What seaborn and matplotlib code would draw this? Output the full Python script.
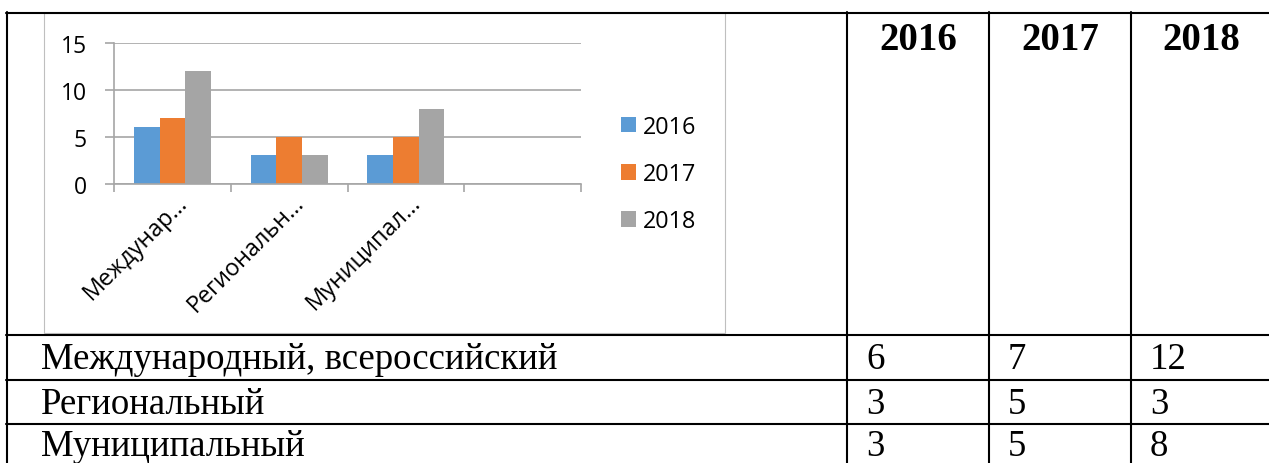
import numpy as np
import pandas as pd
import matplotlib
matplotlib.use("Agg")
import matplotlib.pyplot as plt
import seaborn as sns
from matplotlib.lines import Line2D
from matplotlib.patches import Rectangle
from matplotlib.transforms import ScaledTranslation

# -- Данные
levels = ["Международный, всероссийский", "Региональный", "Муниципальный"]
short_labels = ["Междунар…", "Региональн…", "Муниципал…", ""]
years = ["2016", "2017", "2018"]
values_2016 = [6, 3, 3]
values_2017 = [7, 5, 5]
values_2018 = [12, 3, 8]
colors = ["#5B9BD5", "#ED7D31", "#A5A5A5"]

W, H = 1269, 464

# длинная таблица для seaborn
rows = []
for year, vals in zip(years, [values_2016, values_2017, values_2018]):
    for lab, v in zip(short_labels[:3], vals):
        rows.append({"Уровень": lab, "Год": year, "Количество": v})
df = pd.DataFrame(rows)

sns.set_style("white")
plt.rcParams["font.family"] = ["Open Sans", "DejaVu Sans"]
plt.rcParams["text.color"] = "black"
plt.rcParams["xtick.color"] = "black"
plt.rcParams["ytick.color"] = "black"

fig = plt.figure(figsize=(W / 100, H / 100), dpi=100)


def fx(x):
    return x / W


def fy(y):
    return 1 - y / H


# -- Рамка диаграммы
fig.add_artist(Rectangle((fx(44), fy(334)), fx(725) - fx(44), fy(14) - fy(334),
                         transform=fig.transFigure, facecolor="white",
                         edgecolor="#BFBFBF", lw=0.8, zorder=0))

# -- Диаграмма
grid_c = "#A6A6A6"
ax = fig.add_axes([fx(114), fy(184.5), fx(581) - fx(114), fy(44) - fy(184.5)])
sns.barplot(data=df, x="Уровень", y="Количество", hue="Год", order=short_labels,
            hue_order=years, palette=colors, width=0.66, saturation=1,
            linewidth=0, ax=ax)
ax.set_xlim(-0.5, 3.5)
ax.set_ylim(0, 15)
ax.set_yticks([0, 5, 10, 15])
ax.set_xlabel("")
ax.set_ylabel("")
ax.set_axisbelow(True)
ax.yaxis.grid(True, color=grid_c, lw=1.2)
for s in ["top", "right"]:
    ax.spines[s].set_visible(False)
for s in ["left", "bottom"]:
    ax.spines[s].set_color(grid_c)
    ax.spines[s].set_linewidth(1.2)

ax.set_xticks(range(len(short_labels)))
ax.set_xticklabels(short_labels, rotation=45, ha="right", va="top",
                   rotation_mode="anchor", fontsize=16.8)
ax.set_xticks([-0.5, 0.5, 1.5, 2.5, 3.5], minor=True)
ax.tick_params(axis="x", which="major", length=0, pad=5)
ax.tick_params(axis="x", which="minor", length=5.5, width=1.2, color=grid_c,
               direction="out", bottom=True)
ax.tick_params(axis="y", length=6.5, width=1.2, color=grid_c, direction="out",
               pad=13, labelsize=16.5, left=True, labelcolor="black")
ax.tick_params(axis="x", labelcolor="black")
shift = ScaledTranslation(3 / 100, 0, fig.dpi_scale_trans)
for lab in ax.get_xticklabels():
    lab.set_transform(lab.get_transform() + shift)

handles, labels = ax.get_legend_handles_labels()
ax.get_legend().remove()
ax.legend(handles, labels, loc="center left",
          bbox_to_anchor=(fx(621), fy(175)), bbox_transform=fig.transFigure,
          frameon=False, fontsize=16.8, handlelength=0.65, handleheight=0.65,
          handletextpad=0.3, labelspacing=1.0, borderpad=0, borderaxespad=0)

# -- Таблица
def hline(y, x0=6, x1=W):
    fig.add_artist(Line2D([fx(x0), fx(x1)], [fy(y), fy(y)],
                          transform=fig.transFigure, color="black", lw=1.5))


def vline(x, y0=13, y1=H):
    fig.add_artist(Line2D([fx(x), fx(x)], [fy(y0), fy(y1)],
                          transform=fig.transFigure, color="black", lw=1.5))


hline(14)
for y in [336, 380.5, 425]:
    hline(y)
for x in [7, 847, 989, 1131]:
    vline(x)

serif = ["Liberation Serif", "DejaVu Serif"]
col_centers = [918, 1060, 1201]
col_left = [866, 1008, 1150]
for c, year in zip(col_centers, years):
    fig.text(fx(c), fy(49.5), year, ha="center", va="baseline",
             fontsize=28, fontweight="bold", family=serif)

# последняя строка в оригинале обрезана снизу, чуть поднимаем её
row_base = [369.5, 414, 456]
for yb, name, vals in zip(row_base, levels,
                          zip(values_2016, values_2017, values_2018)):
    fig.text(fx(41), fy(yb), name, ha="left", va="baseline",
             fontsize=26.5, family=serif)
    for xl, v in zip(col_left, vals):
        fig.text(fx(xl), fy(yb), str(v), ha="left", va="baseline",
                 fontsize=26.5, family=serif)

fig.savefig("out.png", dpi=100)
